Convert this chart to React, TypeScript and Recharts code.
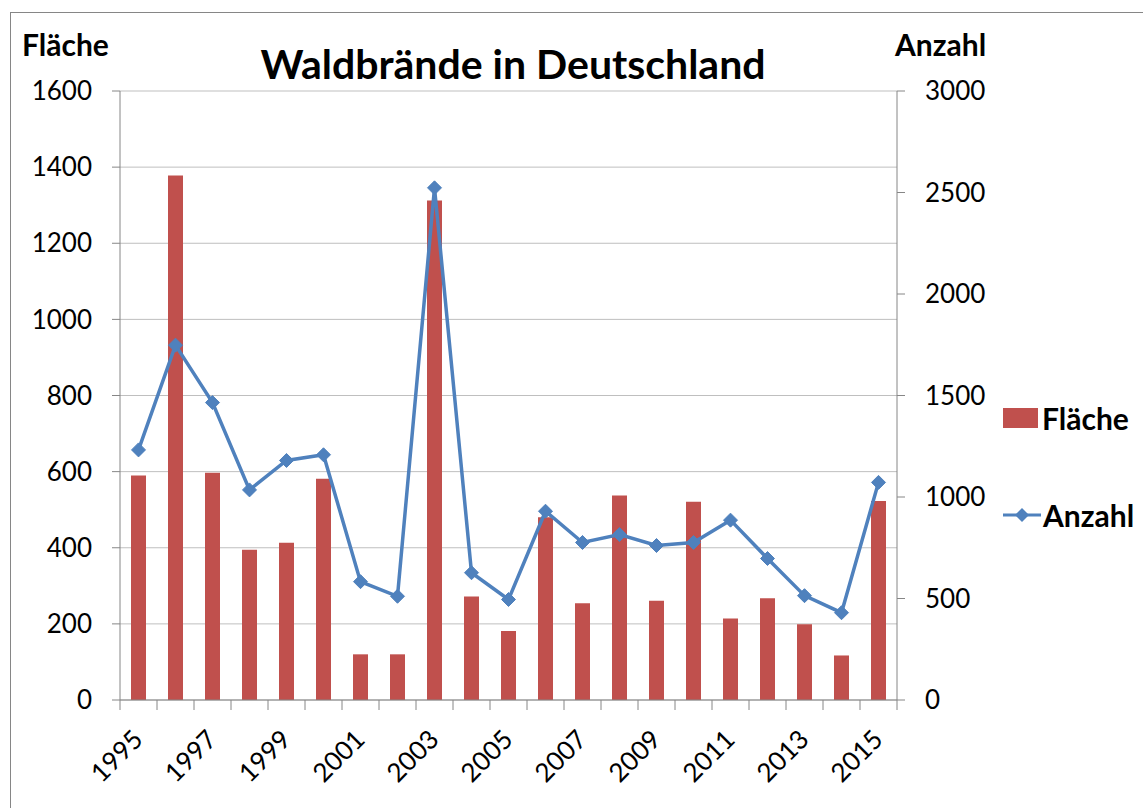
import React from "react";
import {
  ComposedChart,
  Bar,
  Line,
  XAxis,
  YAxis,
  CartesianGrid,
} from "recharts";

const years = [
  "1995", "1996", "1997", "1998", "1999", "2000", "2001", "2002", "2003", "2004",
  "2005", "2006", "2007", "2008", "2009", "2010", "2011", "2012", "2013", "2014", "2015",
];
const flaeche = [590, 1378, 597, 395, 413, 581, 120, 120, 1312, 272, 181, 480, 254, 537, 261, 521, 214, 267, 199, 117, 523];
const anzahl = [1232, 1748, 1465, 1035, 1180, 1208, 583, 511, 2523, 627, 495, 930, 776, 815, 761, 776, 886, 697, 514, 430, 1072];
const leftTicks = [0, 200, 400, 600, 800, 1000, 1200, 1400, 1600];
const rightTicks = [0, 500, 1000, 1500, 2000, 2500, 3000];

const data = years.map((y, i) => ({ year: y, Fläche: flaeche[i], Anzahl: anzahl[i] }));

const FONT = "Lato, 'Open Sans', sans-serif";
const RED = "#C0504D";
const BLUE = "#4F81BD";
const AXIS = "#868686";
const GRID = "#BFBFBF";

const Diamond = (props: any) => {
  const { cx, cy } = props;
  if (cx == null || cy == null) return null;
  const r = 7;
  return (
    <polygon
      points={`${cx},${cy - r} ${cx + r},${cy} ${cx},${cy + r} ${cx - r},${cy}`}
      fill={BLUE}
      stroke={BLUE}
    />
  );
};

const XTick = (props: any) => {
  const { x, y, payload, index, width, visibleTicksCount } = props;
  const n = visibleTicksCount || years.length;
  const half = width / n / 2;
  const isLast = index === n - 1;
  return (
    <g>
      <line x1={x - half} y1={y} x2={x - half} y2={y + 10} stroke={AXIS} strokeWidth={1} />
      {isLast && <line x1={x + half} y1={y} x2={x + half} y2={y + 10} stroke={AXIS} strokeWidth={1} />}
      {index % 2 === 0 && (
        <text
          x={x + 6}
          y={y + 41}
          textAnchor="end"
          transform={`rotate(-45, ${x + 6}, ${y + 41})`}
          fontSize={26}
          fontFamily={FONT}
          fill="#000"
        >
          {payload.value}
        </text>
      )}
    </g>
  );
};

export default function App() {
  const bold = { fontFamily: FONT, fontWeight: 700, color: "#000" } as const;
  return (
    <div style={{ position: "absolute", left: 0, top: 0, width: 1143, height: 808, background: "#fff", overflow: "hidden" }}>
      <div
        style={{
          position: "absolute",
          left: 10,
          top: 12,
          width: 1200,
          height: 900,
          border: `1px solid ${AXIS}`,
          boxSizing: "border-box",
        }}
      />
      <div style={{ position: "absolute", left: 0, top: 0 }}>
        <ComposedChart
          width={1143}
          height={808}
          data={data}
          margin={{ top: 91, right: 0, bottom: 0, left: 0 }}
          barSize={15}
        >
          <CartesianGrid yAxisId="left" vertical={false} stroke={GRID} strokeWidth={1} />
          <XAxis
            dataKey="year"
            height={108}
            interval={0}
            tickSize={0}
            tickMargin={0}
            tickLine={false}
            axisLine={{ stroke: AXIS }}
            tick={<XTick />}
          />
          <YAxis
            yAxisId="left"
            orientation="left"
            width={120}
            domain={[0, 1600]}
            ticks={leftTicks}
            interval={0}
            tickSize={8}
            tickMargin={20}
            axisLine={{ stroke: AXIS }}
            tickLine={{ stroke: AXIS }}
            tick={{ fontSize: 26, fontFamily: FONT, fill: "#000" }}
          />
          <YAxis
            yAxisId="right"
            orientation="right"
            width={246}
            domain={[0, 3000]}
            ticks={rightTicks}
            interval={0}
            tickSize={8}
            tickMargin={20}
            axisLine={{ stroke: AXIS }}
            tickLine={{ stroke: AXIS }}
            tick={{ fontSize: 26, fontFamily: FONT, fill: "#000", textAnchor: "start" }}
          />
          <Bar yAxisId="left" dataKey="Fläche" fill={RED} isAnimationActive={false} />
          <Line
            yAxisId="right"
            dataKey="Anzahl"
            type="linear"
            stroke={BLUE}
            strokeWidth={3.5}
            dot={<Diamond />}
            activeDot={false}
            isAnimationActive={false}
          />
        </ComposedChart>
      </div>
      <div style={{ ...bold, position: "absolute", left: 22, top: 26, fontSize: 30, lineHeight: "36px" }}>Fläche</div>
      <div style={{ ...bold, position: "absolute", left: 895, top: 26, fontSize: 30, lineHeight: "36px" }}>Anzahl</div>
      <div
        style={{
          ...bold,
          position: "absolute",
          left: 213,
          width: 600,
          top: 38,
          textAlign: "center",
          fontSize: 41,
          lineHeight: "52px",
          whiteSpace: "nowrap",
        }}
      >
        Waldbrände in Deutschland
      </div>
      <div style={{ ...bold, position: "absolute", left: 1003, top: 398, fontSize: 30 }}>
        <div style={{ display: "flex", alignItems: "center", height: 40 }}>
          <div style={{ width: 35, height: 20, background: RED, marginRight: 4 }} />
          <span>Fläche</span>
        </div>
        <div style={{ display: "flex", alignItems: "center", height: 40, marginTop: 57 }}>
          <svg width={38} height={20} style={{ marginRight: 2 }}>
            <line x1={0} y1={10} x2={38} y2={10} stroke={BLUE} strokeWidth={3} />
            <polygon points="19,3 26,10 19,17 12,10" fill={BLUE} />
          </svg>
          <span>Anzahl</span>
        </div>
      </div>
    </div>
  );
}
